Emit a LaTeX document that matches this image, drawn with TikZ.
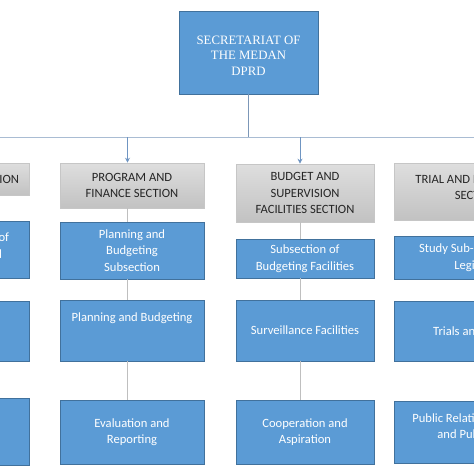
\documentclass[tikz,border=0pt]{standalone}
\usepackage{fontspec}
\setmainfont{Carlito}
\newfontfamily\serifTNR{Liberation Serif}
\usetikzlibrary{arrows.meta}
\definecolor{boxblue}{HTML}{5B9BD5}
\definecolor{boxborder}{HTML}{41719C}
\definecolor{graytop}{HTML}{DEDEDE}
\definecolor{graybot}{HTML}{C2C2C2}
\definecolor{grayborder}{HTML}{C6C6C6}
\definecolor{linkgray}{HTML}{BFBFBF}
\definecolor{busblue}{HTML}{A9BCD3}
\definecolor{stemblue}{HTML}{7C97B8}
\definecolor{arrowblue}{HTML}{6F95C2}
\definecolor{txtdark}{HTML}{262626}
\begin{document}
\begin{tikzpicture}[x=1pt,y=-1pt,
  sz/.style 2 args={minimum width=#1, minimum height=#2},
  bluebox/.style={draw=boxborder, line width=0.6pt, fill=boxblue, text=white,
    inner sep=0pt, align=center, font=\fontsize{12.6}{16.5}\selectfont},
  graybox/.style={draw=grayborder, line width=0.6pt, top color=graytop, bottom color=graybot,
    text=txtdark, inner sep=0pt, align=center, font=\fontsize{12.6}{16.8}\selectfont},
  topbox/.style={draw=boxborder, line width=0.6pt, fill=boxblue, text=white,
    inner sep=0pt, align=center, font=\serifTNR\fontsize{12.8}{15.5}\selectfont},
  link/.style={draw=linkgray, line width=0.8pt},
  bus/.style={draw=busblue, line width=1pt},
  stem/.style={draw=stemblue, line width=1pt},
  arrowc/.style={draw=arrowblue, line width=1pt, -{Stealth[length=5pt,width=5pt]}}
]
\useasboundingbox (0,0) rectangle (474,474);
\clip (0,0) rectangle (474,474);
\fill[white] (0,0) rectangle (474,474);

% top
\node[topbox, sz={139pt}{83pt}, text height=45.5pt] (top) at (248.5,52.5) {SECRETARIAT OF\\THE MEDAN\\DPRD};

% section boxes
\node[graybox, sz={115pt}{32pt}] (gen) at (-28.5,179) {GENERAL SECTION};
\node[graybox, sz={144pt}{45pt}] (prog) at (132,185.5) {PROGRAM AND\\FINANCE SECTION};
\node[graybox, sz={138pt}{58pt}] (budg) at (305,193) {BUDGET AND\\SUPERVISION\\FACILITIES SECTION};
\node[graybox, sz={166pt}{57pt}, text depth=8pt] (trial) at (477,191.5) {TRIAL AND LEGISLATION\\SECTION};

% general column
\node[bluebox, sz={109pt}{57pt}, text depth=8pt] (gen1) at (-25.5,249.5) {Subsection of\\Household};
\node[bluebox, sz={109pt}{60pt}] (gen2) at (-25.5,331) {};
\node[bluebox, sz={109pt}{67pt}] (gen3) at (-25.5,431.5) {};

% program column
\node[bluebox, sz={144pt}{57pt}] (prog1) at (132,250.5) {Planning and\\Budgeting\\Subsection};
\node[bluebox, sz={144pt}{61pt}, text depth=26pt] (prog2) at (132,330.5) {Planning and Budgeting};
\node[bluebox, sz={144pt}{64pt}] (prog3) at (132,432) {Evaluation and\\Reporting};

% budget column
\node[bluebox, sz={138pt}{39pt}] (budg1) at (305,258.5) {Subsection of\\Budgeting Facilities};
\node[bluebox, sz={138pt}{61pt}] (budg2) at (305,330.5) {Surveillance Facilities};
\node[bluebox, sz={138pt}{64pt}] (budg3) at (305,432) {Cooperation and\\Aspiration};

% trial column
\node[bluebox, sz={175pt}{43pt}] (trial1) at (481.5,257.5) {Study Sub-section of the\\Legislation};
\node[bluebox, sz={172pt}{60pt}] (trial2) at (480,331) {Trials and Minutes};
\node[bluebox, sz={166pt}{62pt}, text depth=12pt] (trial3) at (477,432) {Public Relations, Protocol\\and Publication};

% bus
\coordinate (busL) at (0,137);
\coordinate (busR) at (474,137);
\coordinate (ja) at (127.5,137);
\coordinate (jb) at (300,137);
\draw[stem] (top.south) -- (top.south |- busL);
\draw[bus] (busL) -- (busR);
\draw[arrowc] (ja) -- (ja |- prog.north);
\draw[arrowc] (jb) -- (jb |- budg.north);

% vertical links inside columns
\coordinate (pa) at (127.5,0);
\coordinate (ba) at (300,0);
\draw[link] (pa |- prog.south) -- (pa |- prog1.north);
\draw[link] (pa |- prog1.south) -- (pa |- prog2.north);
\draw[link] (pa |- prog2.south) -- (pa |- prog3.north);
\draw[link] (ba |- budg.south) -- (ba |- budg1.north);
\draw[link] (ba |- budg1.south) -- (ba |- budg2.north);
\draw[link] (ba |- budg2.south) -- (ba |- budg3.north);
\end{tikzpicture}
\end{document}
